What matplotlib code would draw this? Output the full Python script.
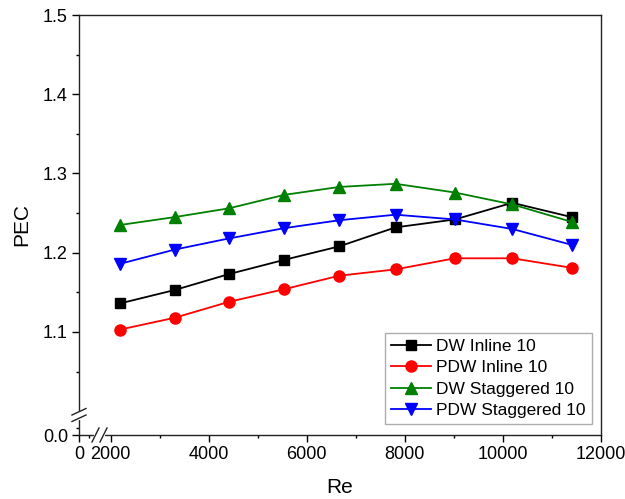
import numpy as np
import matplotlib
matplotlib.use('Agg')
import matplotlib.pyplot as plt
from matplotlib.lines import Line2D
from matplotlib.ticker import FormatStrFormatter

plt.rcParams['font.family'] = ['Liberation Sans', 'DejaVu Sans']

re_vals = [2190, 3310, 4410, 5540, 6660, 7810, 9020, 10190, 11400]
dw_inline = [1.136, 1.153, 1.173, 1.191, 1.208, 1.232, 1.242, 1.263, 1.245]
pdw_inline = [1.103, 1.118, 1.138, 1.154, 1.171, 1.179, 1.193, 1.193, 1.181]
dw_stag = [1.235, 1.245, 1.256, 1.273, 1.283, 1.287, 1.276, 1.261, 1.239]
pdw_stag = [1.186, 1.204, 1.218, 1.231, 1.241, 1.248, 1.242, 1.230, 1.210]

x_major = [0, 2000, 4000, 6000, 8000, 10000, 12000]
x_minor = [1000, 3000, 5000, 7000, 9000, 11000]
y_major = [0.0, 1.1, 1.2, 1.3, 1.4, 1.5]
y_minor = [0.05, 1.05, 1.15, 1.25, 1.35, 1.45]

# broken-axis scale definitions
xd = [-10000, 0, 1000, 2000, 100000]
xf = [1356 - 2030, 1356, 1559, 2000, 100000]
yd = [-1.0, 0.0, 0.1, 1.0, 10.0]
yf = [0.79, 0.97, 0.988, 1.0, 10.0]

def xfwd(v):
    return np.interp(v, xd, xf)

def xinv(v):
    return np.interp(v, xf, xd)

def yfwd(v):
    return np.interp(v, yd, yf)

def yinv(v):
    return np.interp(v, yf, yd)

W, H = 625, 499
fig = plt.figure(figsize=(W / 100, H / 100), dpi=100)
ax = fig.add_axes([79 / W, 1 - 435 / H, (601 - 79) / W, (435 - 15) / H])
ax.set_xscale('function', functions=(xfwd, xinv))
ax.set_yscale('function', functions=(yfwd, yinv))

series = [
    (dw_inline, 'black', 's', 7, 'DW Inline 10'),
    (pdw_inline, 'red', 'o', 8, 'PDW Inline 10'),
    (dw_stag, 'green', '^', 8.5, 'DW Staggered 10'),
    (pdw_stag, 'blue', 'v', 8.5, 'PDW Staggered 10'),
]
for vals, col, mk, ms, lab in series:
    ax.plot(re_vals, vals, '-', marker=mk, color=col, ms=ms, lw=1.3, label=lab)

ax.set_xlim(0, 12000)
ax.set_ylim(0, 1.5)
ax.set_xticks(x_major)
ax.set_xticks(x_minor, minor=True)
ax.set_yticks(y_major)
ax.set_yticks(y_minor, minor=True)
ax.xaxis.set_major_formatter(FormatStrFormatter('%d'))
ax.yaxis.set_major_formatter(FormatStrFormatter('%.1f'))
ax.tick_params(which='major', direction='out', length=5, width=1, labelsize=13, pad=3)
ax.tick_params(which='minor', direction='out', length=2.5, width=1)
ax.tick_params(top=False, right=False, which='both')
for s in ax.spines.values():
    s.set_linewidth(1.0)
    s.set_color('#222222')

ax.set_xlabel('Re', fontsize=15, labelpad=11)
ax.set_ylabel('PEC', fontsize=15, labelpad=8)

leg = ax.legend(loc='lower right', bbox_to_anchor=((592 - 79) / 522, (435 - 424) / 420),
                borderaxespad=0, fontsize=12.5, fancybox=False, handlelength=2.3,
                labelspacing=0.35, borderpad=0.35, handletextpad=0.3, frameon=True)
leg.get_frame().set_edgecolor('#999999')
leg.get_frame().set_linewidth(1.0)

def P(x, y):
    return x / W, 1 - y / H

def seg(p0, p1, color='#222222', lw=1.0):
    (x0, y0), (x1, y1) = P(*p0), P(*p1)
    fig.add_artist(Line2D([x0, x1], [y0, y1], color=color, lw=lw,
                          transform=fig.transFigure, clip_on=False))

# y-axis break
seg((79, 412.5), (79, 418), color='white', lw=3)
seg((72, 415), (86, 408.5))
seg((72, 421.5), (86, 415))
# x-axis break
seg((96.3, 435), (103.2, 435), color='white', lw=3)
seg((92, 442), (99, 428))
seg((100, 442), (107, 428))

fig.savefig('out.png', dpi=100)
